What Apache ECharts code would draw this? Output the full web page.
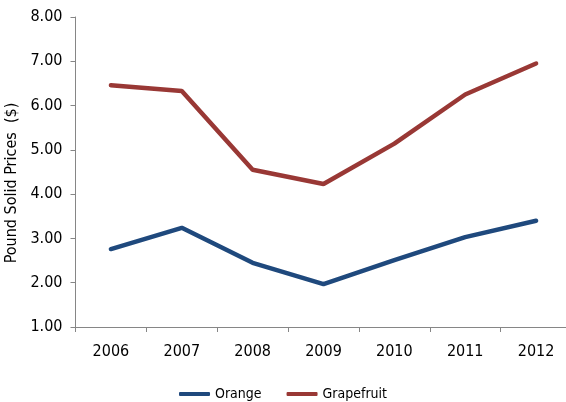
<!DOCTYPE html>
<html>
<head>
<meta charset="utf-8">
<script src="https://cdn.jsdelivr.net/npm/echarts@6/dist/echarts.min.js"></script>
<style>
  html, body { margin: 0; padding: 0; background: #fff; }
  #chart { width: 566px; height: 402px; }
</style>
</head>
<body>
<div id="chart"></div>
<script>
// Pound-solid prices by season
const years = ['2006', '2007', '2008', '2009', '2010', '2011', '2012'];
const orange = [2.76, 3.24, 2.45, 1.97, 2.51, 3.03, 3.40];
const grapefruit = [6.46, 6.33, 4.55, 4.23, 5.14, 6.25, 6.95];

const FONT = "'Liberation Sans Narrow', 'DejaVu Sans Condensed', sans-serif";
const AXIS_GREY = '#868686';

const chart = echarts.init(document.getElementById('chart'));
chart.setOption({
  animation: false,
  textStyle: { fontFamily: FONT },
  grid: { left: 75.5, top: 17, bottom: 75, width: 496, outerBoundsMode: 'none', containLabel: false },
  legend: {
    bottom: -4,
    left: 'center',
    icon: 'roundRect',
    itemWidth: 31,
    itemHeight: 4,
    itemGap: 25,
    textStyle: { fontFamily: FONT, fontSize: 14, color: '#000' },
    data: ['Orange', 'Grapefruit']
  },
  xAxis: {
    type: 'category',
    data: years,
    boundaryGap: true,
    axisLine: { lineStyle: { color: AXIS_GREY, width: 1 } },
    axisTick: { show: true, length: 5, lineStyle: { color: AXIS_GREY } },
    axisLabel: { fontFamily: FONT, fontSize: 16, color: '#000', margin: 17 }
  },
  yAxis: {
    type: 'value',
    min: 1,
    max: 8,
    interval: 1,
    name: 'Pound Solid Prices  ($)',
    nameLocation: 'middle',
    nameGap: 53,
    nameTextStyle: { fontFamily: FONT, fontSize: 16, color: '#000', padding: [0, 22, 0, 0] },
    splitLine: { show: false },
    axisLine: { show: true, lineStyle: { color: AXIS_GREY, width: 1 } },
    axisTick: { show: true, length: 5, lineStyle: { color: AXIS_GREY } },
    axisLabel: {
      fontFamily: FONT, fontSize: 16, color: '#000', margin: 13,
      formatter: v => v.toFixed(2)
    }
  },
  series: [
    {
      name: 'Orange',
      type: 'line',
      data: orange,
      symbol: 'none',
      color: '#1F497D',
      lineStyle: { width: 4.5, cap: 'round' }
    },
    {
      name: 'Grapefruit',
      type: 'line',
      data: grapefruit,
      symbol: 'none',
      color: '#993835',
      lineStyle: { width: 4.5, cap: 'round' }
    }
  ]
});
</script>
</body>
</html>
